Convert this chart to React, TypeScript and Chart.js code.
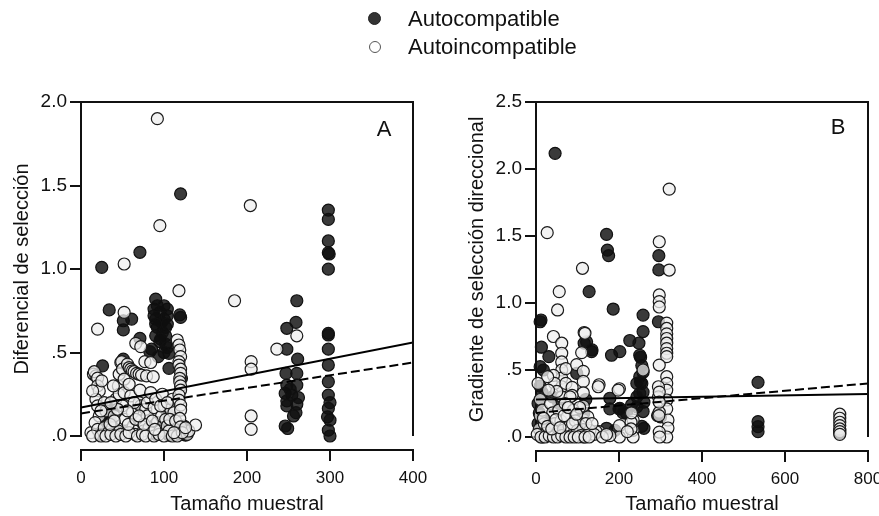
import React, { useEffect, useRef } from 'react';
import { Chart, registerables } from 'chart.js';

Chart.register(...registerables);

const FONT = "'Liberation Sans', Arial, Helvetica, sans-serif";
const INK = '#111';

type Pt = [number, number];

// ---------- Panel A: Diferencial de selección ----------
const xTicksA = [0, 100, 200, 300, 400];
const yTicksA = [0, 0.5, 1, 1.5, 2];
const yLabelsA = ['.0', '.5', '1.0', '1.5', '2.0'];

const compatA: Pt[] = [
  [25, 1.01], [71, 1.1], [120, 1.45], [34, 0.755], [51, 0.69], [61, 0.7], [51, 0.635], [26, 0.42], [71, 0.585], [51, 0.46],
  [90, 0.82], [88, 0.76], [104, 0.76], [90, 0.7], [100, 0.7], [92, 0.65], [102, 0.65], [90, 0.6], [102, 0.6], [95, 0.565],
  [102, 0.55], [106, 0.495], [85, 0.52], [97, 0.68], [95, 0.74], [83, 0.505], [93, 0.475], [119, 0.725],
  [88, 0.72], [104, 0.72], [92, 0.78], [100, 0.78], [98, 0.62], [90, 0.67], [104, 0.67], [96, 0.58], [104, 0.53], [100, 0.5],
  [120, 0.71], [106, 0.405], [121, 0.345], [35, 0.137], [35, 0.1], [30, 0.06], [90, 0.01], [104, 0.14], [122, 0.01],
  [100, 0.04], [118, 0.03], [40, 0.18], [32, 0.16], [45, 0.02], [124, 0.06], [106, 0.005], [126, 0.005], [22, 0.01],
  [36, 0.08], [33, 0.12], [30, 0.1], [98, 0.05], [108, 0.02], [115, 0.01], [124, 0.03], [40, 0.03], [102, 0.09],
  [248, 0.645], [260, 0.81], [259, 0.68], [248, 0.52], [261, 0.46], [247, 0.375], [260, 0.375], [248, 0.305], [260, 0.305],
  [246, 0.255], [254, 0.245], [248, 0.21], [260, 0.19], [248, 0.18], [259, 0.14], [246, 0.06], [249, 0.045], [256, 0.12],
  [252, 0.28], [262, 0.23],
  [298, 1.353], [298, 1.297], [298, 1.168], [298, 1.098], [299, 1.09], [298, 0.999], [298, 0.615], [298, 0.605], [298, 0.52],
  [298, 0.425], [298, 0.325], [298, 0.245], [300, 0.2], [298, 0.165], [297, 0.115], [300, 0.095], [298, 0.035], [300, 0.0],
];

const incompatA: Pt[] = [
  [12, 0.02], [15, 0.37], [18, 0.36], [16, 0.385], [20, 0.347], [20, 0.3], [22, 0.27], [18, 0.22], [20, 0.18], [22, 0.12],
  [17, 0.08], [20, 0.04], [25, 0.01], [28, 0.2], [30, 0.15], [25, 0.33], [20, 0.64], [28, 0.05], [33, 0.02],
  [38, 0.05], [40, 0.12], [42, 0.22], [45, 0.03], [45, 0.3], [46, 0.37], [46, 0.25], [48, 0.44], [49, 0.445], [50, 0.4],
  [52, 0.34], [52, 0.26], [50, 0.18], [53, 0.1], [55, 0.02], [52, 0.74], [52, 1.03],
  [56, 0.43], [58, 0.41], [60, 0.4], [62, 0.39], [64, 0.385], [67, 0.375], [70, 0.37], [73, 0.365], [77, 0.445], [79, 0.36],
  [84, 0.44], [87, 0.355],
  [60, 0.24], [62, 0.14], [63, 0.06], [65, 0.01], [66, 0.555], [72, 0.535], [71, 0.275], [70, 0.2], [72, 0.18], [72, 0.09],
  [75, 0.03], [78, 0.16], [80, 0.2], [80, 0.12], [82, 0.05], [85, 0.02], [84, 0.26],
  [88, 0.17], [90, 0.22], [92, 0.08], [95, 0.03], [97, 0.12], [98, 0.25], [100, 0.18], [102, 0.1], [104, 0.06], [106, 0.03],
  [108, 0.16], [110, 0.22], [92, 1.9], [95, 1.26],
  [14, 0.0], [24, 0.0], [30, 0.0], [36, 0.01], [42, 0.0], [48, 0.01], [54, 0.0], [58, 0.02], [68, 0.0], [74, 0.01],
  [78, 0.0], [88, 0.0], [94, 0.01], [100, 0.0], [110, 0.0], [116, 0.0], [128, 0.01], [35, 0.07], [40, 0.09], [57, 0.07],
  [66, 0.1], [76, 0.07], [86, 0.09], [96, 0.18], [104, 0.2], [112, 0.14], [107, 0.1], [24, 0.15], [14, 0.27], [58, 0.31],
  [64, 0.2], [56, 0.15], [44, 0.16], [39, 0.3], [89, 0.04], [114, 0.09], [130, 0.03], [70, 0.12], [36, 0.2],
  [116, 0.575], [118, 0.545], [119, 0.515], [120, 0.475], [118, 0.445], [118, 0.425], [120, 0.4], [120, 0.375], [119, 0.345],
  [119, 0.325], [120, 0.3], [120, 0.275], [118, 0.245], [118, 0.215], [120, 0.185], [120, 0.155], [119, 0.105], [120, 0.055],
  [122, 0.02], [118, 0.87], [138, 0.066], [112, 0.02], [126, 0.05],
  [185, 0.81], [204, 1.38], [205, 0.445], [205, 0.4], [205, 0.12], [205, 0.04], [236, 0.52], [260, 0.6],
];

const solidA: Pt[] = [[0, 0.17], [400, 0.56]];
const dashedA: Pt[] = [[0, 0.135], [400, 0.44]];

// ---------- Panel B: Gradiente de selección direccional ----------
const xTicksB = [0, 200, 400, 600, 800];
const yTicksB = [0, 0.5, 1, 1.5, 2, 2.5];
const yLabelsB = ['.0', '.5', '1.0', '1.5', '2.0', '2.5'];

const compatB: Pt[] = [
  [46, 2.117], [170, 1.512], [172, 1.395], [175, 1.353], [128, 1.085], [186, 0.955], [12, 0.873], [10, 0.86], [13, 0.67],
  [31, 0.6], [10, 0.525],
  [258, 0.91], [258, 0.787], [226, 0.72], [248, 0.7], [182, 0.61], [202, 0.637], [116, 0.7], [134, 0.637], [122, 0.71], [135, 0.65],
  [296, 1.353], [296, 1.247], [295, 0.86], [250, 0.61], [252, 0.595], [255, 0.533], [258, 0.483], [250, 0.45], [252, 0.41],
  [255, 0.4], [258, 0.335], [250, 0.325], [260, 0.26], [243, 0.4], [243, 0.3], [243, 0.225], [258, 0.19], [255, 0.08], [293, 0.16],
  [178, 0.289], [178, 0.21], [200, 0.21], [202, 0.214], [230, 0.239], [218, 0.176], [260, 0.065], [170, 0.065], [190, 0.05], [210, 0.18],
  [535, 0.408], [535, 0.115], [535, 0.077], [535, 0.04],
  [732, 0.05], [732, 0.03],
  [10, 0.38], [15, 0.33], [8, 0.18], [20, 0.055], [115, 0.18], [115, 0.055], [300, 0.15], [98, 0.475], [5, 0.25], [25, 0.12],
  [30, 0.02], [60, 0.03], [110, 0.02], [120, 0.28], [18, 0.5], [15, 0.0], [35, 0.04], [5, 0.1], [55, 0.25], [40, 0.3],
];

const incompatB: Pt[] = [
  [27, 1.525], [321, 1.85], [112, 1.259], [56, 1.085], [52, 0.948], [297, 1.457], [321, 1.246],
  [297, 1.06], [297, 1.01], [297, 0.97], [315, 0.85], [315, 0.81], [315, 0.77], [315, 0.735], [315, 0.7], [315, 0.66],
  [315, 0.625], [315, 0.6], [297, 0.537], [258, 0.5],
  [315, 0.45], [315, 0.4], [315, 0.35], [315, 0.276], [295, 0.375], [295, 0.3], [315, 0.21], [318, 0.127], [318, 0.067],
  [315, 0.0], [297, 0.185], [297, 0.037], [298, 0.0], [297, 0.335], [297, 0.26], [296, 0.16],
  [234, 0.127], [234, 0.05], [234, 0.0], [229, 0.11], [229, 0.06], [230, 0.18], [201, 0.36], [201, 0.085], [201, 0.0],
  [198, 0.35], [178, 0.01], [152, 0.39], [152, 0.04], [150, 0.375], [145, 0.04], [220, 0.04],
  [42, 0.75], [62, 0.7], [116, 0.78], [118, 0.774], [62, 0.625], [62, 0.56], [62, 0.5], [62, 0.44], [62, 0.375], [62, 0.3],
  [42, 0.46], [45, 0.4], [50, 0.34], [28, 0.45], [72, 0.51], [72, 0.4], [110, 0.63], [98, 0.54],
  [114, 0.49], [114, 0.415], [114, 0.33], [114, 0.23], [114, 0.13], [114, 0.055], [115, 0.0], [87, 0.37], [87, 0.31], [82, 0.3],
  [10, 0.28], [10, 0.16], [8, 0.06], [15, 0.2], [20, 0.1], [25, 0.03], [35, 0.25], [40, 0.18], [45, 0.1], [50, 0.02],
  [55, 0.2], [60, 0.12], [65, 0.05], [70, 0.25], [75, 0.15], [80, 0.08], [85, 0.01], [90, 0.2], [95, 0.12], [100, 0.05],
  [105, 0.22], [108, 0.01], [125, 0.15], [130, 0.05], [140, 0.02], [3, 0.02], [30, 0.35], [5, 0.4],
  [12, 0.0], [22, 0.0], [32, 0.01], [42, 0.0], [52, 0.0], [62, 0.01], [72, 0.0], [82, 0.0], [92, 0.0], [102, 0.0],
  [118, 0.0], [128, 0.0], [160, 0.0], [170, 0.02], [18, 0.14], [28, 0.08], [38, 0.06], [48, 0.13], [58, 0.07], [68, 0.16],
  [78, 0.22], [88, 0.1], [98, 0.17], [120, 0.1], [135, 0.1],
  [732, 0.17], [732, 0.14], [732, 0.11], [732, 0.085], [732, 0.06], [732, 0.04], [732, 0.02],
];

const solidB: Pt[] = [[0, 0.28], [800, 0.32]];
const dashedB: Pt[] = [[0, 0.18], [800, 0.4]];

const SERIES = ['Autocompatible', 'Autoincompatible'];

const toXY = (arr: Pt[]) => arr.map(([x, y]) => ({ x, y }));

const framePlugin = {
  id: 'frame',
  afterDraw(chart: any, _args: any, opts: any) {
    const { ctx, chartArea: a, scales } = chart;
    const x = scales.x;
    const y = scales.y;
    ctx.save();
    ctx.strokeStyle = INK;
    ctx.lineWidth = 2;
    ctx.beginPath();
    const y0 = y.getPixelForValue(0);
    ctx.moveTo(a.left - 1, a.top);
    ctx.lineTo(a.right + 1, a.top);
    ctx.moveTo(a.right, a.top);
    ctx.lineTo(a.right, y0);
    const xa = a.bottom + opts.gap;
    const ticks: number[] = opts.xTicks;
    const xs = x.getPixelForValue(ticks[0]);
    const xe = x.getPixelForValue(ticks[ticks.length - 1]);
    ctx.moveTo(xs - 1, xa);
    ctx.lineTo(xe + 1, xa);
    ticks.forEach((t) => {
      const px = x.getPixelForValue(t);
      ctx.moveTo(px, xa - 1);
      ctx.lineTo(px, xa + opts.tick);
    });
    ctx.stroke();
    ctx.fillStyle = INK;
    ctx.font = `22px ${FONT}`;
    ctx.textAlign = 'center';
    ctx.textBaseline = 'middle';
    ctx.fillText(opts.letter, a.right - opts.letterDx, a.top + opts.letterDy);
    ctx.restore();
  },
};

interface PanelCfg {
  width: number;
  compat: Pt[];
  incompat: Pt[];
  solid: Pt[];
  dashed: Pt[];
  xTicks: number[];
  yTicks: number[];
  yLabels: string[];
  yTitle: string;
  letter: string;
  axisWidth: number;
  padRight: number;
  xHeight: number;
  titlePad: number;
  letterDx: number;
  letterDy: number;
}

function Panel({ cfg, left }: { cfg: PanelCfg; left: number }) {
  const ref = useRef<HTMLCanvasElement | null>(null);
  useEffect(() => {
    if (!ref.current) return;
    const chart = new Chart(ref.current, {
      type: 'scatter',
      data: {
        datasets: [
          {
            type: 'line',
            label: 'solid',
            data: toXY(cfg.solid),
            borderColor: '#000',
            borderWidth: 2,
            pointRadius: 0,
            fill: false,
            order: 0,
          } as any,
          {
            type: 'line',
            label: 'dashed',
            data: toXY(cfg.dashed),
            borderColor: '#000',
            borderWidth: 2,
            borderDash: [9, 4],
            pointRadius: 0,
            fill: false,
            order: 1,
          } as any,
          {
            type: 'scatter',
            label: SERIES[1],
            data: toXY(cfg.incompat),
            backgroundColor: 'rgba(238,238,238,0.75)',
            borderColor: '#1a1a1a',
            borderWidth: 1.2,
            pointRadius: 6,
            clip: false,
            order: 2,
          } as any,
          {
            type: 'scatter',
            label: SERIES[0],
            data: toXY(cfg.compat),
            backgroundColor: 'rgba(15,15,15,0.82)',
            borderColor: '#111',
            borderWidth: 1.2,
            pointRadius: 6,
            clip: false,
            order: 3,
          } as any,
        ],
      },
      options: {
        responsive: false,
        animation: false,
        devicePixelRatio: 1,
        layout: { padding: { top: 102, right: cfg.padRight, left: 0, bottom: 0 } },
        plugins: {
          legend: { display: false },
          tooltip: { enabled: false },
          frame: { xTicks: cfg.xTicks, gap: 14, tick: 11, letter: cfg.letter, letterDx: cfg.letterDx, letterDy: cfg.letterDy },
        } as any,
        scales: {
          x: {
            type: 'linear',
            min: cfg.xTicks[0],
            max: cfg.xTicks[cfg.xTicks.length - 1],
            afterBuildTicks: (s: any) => {
              s.ticks = cfg.xTicks.map((v) => ({ value: v }));
            },
            border: { display: false },
            grid: { display: false, drawTicks: false },
            ticks: { padding: 32, color: INK, font: { family: FONT, size: 17 }, maxRotation: 0, autoSkip: false },
            title: {
              display: true,
              text: 'Tamaño muestral',
              color: INK,
              font: { family: FONT, size: 20 },
              padding: { top: 0, bottom: 0 },
            },
            afterFit: (s: any) => {
              s.height = cfg.xHeight;
              s.paddingLeft = 0;
              s.paddingRight = 0;
            },
          },
          y: {
            type: 'linear',
            min: cfg.yTicks[0],
            max: cfg.yTicks[cfg.yTicks.length - 1],
            afterBuildTicks: (s: any) => {
              s.ticks = cfg.yTicks.map((v) => ({ value: v }));
            },
            border: { display: true, color: INK, width: 2 },
            grid: { display: true, drawOnChartArea: false, drawTicks: true, tickLength: 11, color: INK, lineWidth: 2 },
            ticks: {
              padding: 3,
              color: INK,
              font: { family: FONT, size: 19 },
              autoSkip: false,
              callback: (v: any) => {
                const i = cfg.yTicks.indexOf(Number(v));
                return i >= 0 ? cfg.yLabels[i] : '';
              },
            },
            title: {
              display: true,
              text: cfg.yTitle,
              color: INK,
              font: { family: FONT, size: 20 },
              padding: { top: cfg.titlePad, bottom: 0 },
            },
            afterFit: (s: any) => {
              s.width = cfg.axisWidth;
            },
          },
        },
      },
      plugins: [framePlugin as any],
    });
    return () => chart.destroy();
  }, [cfg]);
  return (
    <canvas
      ref={ref}
      width={cfg.width}
      height={516}
      style={{ position: 'absolute', left, top: 0, width: cfg.width, height: 516 }}
    />
  );
}

const panelA: PanelCfg = {
  width: 440,
  compat: compatA,
  incompat: incompatA,
  solid: solidA,
  dashed: dashedA,
  xTicks: xTicksA,
  yTicks: yTicksA,
  yLabels: yLabelsA,
  yTitle: 'Diferencial de selección',
  letter: 'A',
  axisWidth: 81,
  padRight: 27,
  xHeight: 80,
  titlePad: 10,
  letterDx: 29,
  letterDy: 28,
};

const panelB: PanelCfg = {
  width: 439,
  compat: compatB,
  incompat: incompatB,
  solid: solidB,
  dashed: dashedB,
  xTicks: xTicksB,
  yTicks: yTicksB,
  yLabels: yLabelsB,
  yTitle: 'Gradiente de selección direccional',
  letter: 'B',
  axisWidth: 96,
  padRight: 11,
  xHeight: 79,
  titlePad: 25,
  letterDx: 30,
  letterDy: 26,
};

export default function App() {
  const legendText: React.CSSProperties = {
    position: 'absolute',
    left: 408,
    font: `22px ${FONT}`,
    color: INK,
    lineHeight: '26px',
    whiteSpace: 'nowrap',
  };
  return (
    <div
      style={{
        position: 'absolute',
        left: 0,
        top: 0,
        width: 879,
        height: 516,
        background: '#fff',
        overflow: 'hidden',
      }}
    >
      <Panel cfg={panelA} left={0} />
      <Panel cfg={panelB} left={440} />
      <div
        style={{
          position: 'absolute',
          left: 368,
          top: 12,
          width: 13,
          height: 13,
          borderRadius: '50%',
          background: '#333',
          border: '1px solid #222',
          boxSizing: 'border-box',
        }}
      />
      <div style={{ ...legendText, top: 6 }}>{SERIES[0]}</div>
      <div
        style={{
          position: 'absolute',
          left: 369,
          top: 41,
          width: 12,
          height: 12,
          borderRadius: '50%',
          background: '#fff',
          border: '1px solid #555',
          boxSizing: 'border-box',
        }}
      />
      <div style={{ ...legendText, top: 34 }}>{SERIES[1]}</div>
    </div>
  );
}
